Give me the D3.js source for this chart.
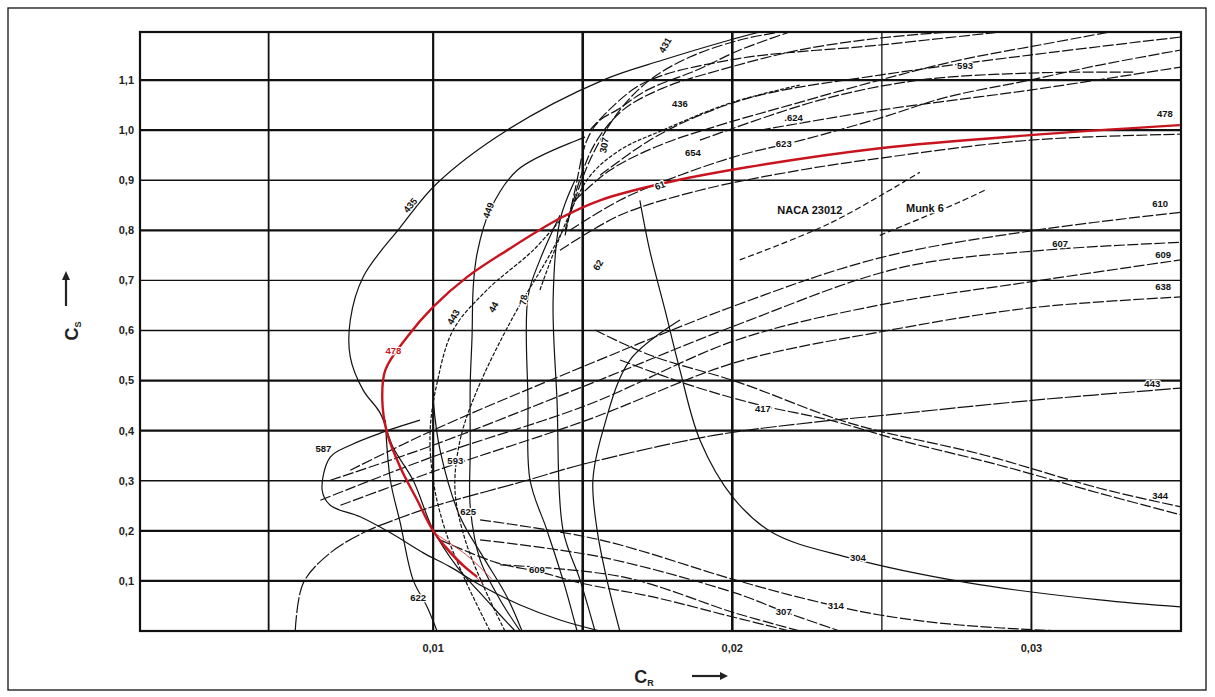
<!DOCTYPE html>
<html><head><meta charset="utf-8">
<script src="https://cdn.jsdelivr.net/npm/d3@7"></script>
<style>
html,body{margin:0;padding:0;background:#fff;}
svg{display:block;}
text{font-family:"Liberation Sans","DejaVu Sans",Arial,sans-serif;}
</style></head><body>
<svg id="chart" width="1215" height="697"></svg>
<script>
// ---- axis ticks ----
const csTicks = [0.1,0.2,0.3,0.4,0.5,0.6,0.7,0.8,0.9,1.0,1.1];
const csTickLabels = ["0,1","0,2","0,3","0,4","0,5","0,6","0,7","0,8","0,9","1,0","1,1"];
const crTicks = [0.01,0.02,0.03];
const crTickLabels = ["0,01","0,02","0,03"];
const crGrid = [0.0045,0.01,0.015,0.02,0.025,0.03];

// ---- polars (c_R, c_S) ----
const p478 = [[0.01147,0.108],[0.0108,0.142],[0.0100,0.200],[0.00947,0.261],[0.00890,0.327],[0.00846,0.395],[0.00830,0.461],[0.00840,0.521],[0.00913,0.587],[0.0100,0.647],[0.01114,0.707],[0.01247,0.760],[0.01424,0.824],[0.01558,0.860],[0.01769,0.894],[0.02049,0.926],[0.02494,0.964],[0.02995,0.990],[0.03496,1.010]];
const p478a = [[0.01003,0.196],[0.01090,0.140],[0.01167,0.094]];
const p478b = [[0.01003,0.196],[0.01115,0.150],[0.01195,0.104]];
const pOuter = [[0.02092,1.196],[0.01992,1.180],[0.01768,1.140],[0.01568,1.100],[0.01247,1.000],[0.01013,0.894],[0.00890,0.806],[0.00766,0.707],[0.00723,0.621],[0.00723,0.547],[0.00766,0.481],[0.00823,0.435],[0.00866,0.367],[0.00933,0.301],[0.0100,0.202],[0.01080,0.128],[0.01157,0.076],[0.01224,0.032],[0.01274,0.000]];
const pArc2 = [[0.01508,0.986],[0.01481,0.980],[0.01281,0.920],[0.01190,0.840],[0.01147,0.754],[0.01134,0.687],[0.01130,0.587],[0.01124,0.495],[0.01124,0.361],[0.01124,0.248],[0.01157,0.142],[0.01224,0.062],[0.01291,0.000]];
const pD = [[0.01424,0.820],[0.01334,0.760],[0.01180,0.681],[0.01067,0.601],[0.01013,0.495],[0.00990,0.401],[0.0100,0.301],[0.01040,0.202],[0.01107,0.102],[0.01190,0.000]];
const pE = [[0.01434,0.800],[0.01380,0.741],[0.01267,0.627],[0.01147,0.481],[0.01090,0.381],[0.01073,0.281],[0.01107,0.182],[0.01174,0.082],[0.01240,0.000]];
const pF = [[0.01424,0.830],[0.01357,0.741],[0.01317,0.667],[0.01317,0.461],[0.01324,0.301],[0.01380,0.202],[0.01434,0.102],[0.01481,0.000]];
const pG = [[0.01474,0.900],[0.01424,0.820],[0.01401,0.661],[0.01414,0.461],[0.01434,0.202],[0.01491,0.102],[0.01541,0.000]];
const p307 = [[0.01441,0.790],[0.01474,0.880],[0.01514,0.980],[0.01558,1.020],[0.01614,1.040],[0.01715,1.080],[0.01882,1.120],[0.02025,1.160],[0.02192,1.196]];
const p436 = [[0.01441,0.800],[0.01501,0.920],[0.01548,0.980],[0.01634,1.040],[0.01768,1.084],[0.01958,1.120],[0.02225,1.160],[0.02493,1.184],[0.02727,1.196]];
const pTop = [[0.01457,0.830],[0.01524,0.940],[0.01624,1.040],[0.01724,1.100],[0.01858,1.146],[0.02025,1.180],[0.02159,1.196]];
const p624 = [[0.01474,0.860],[0.01591,0.920],[0.01758,0.970],[0.01958,1.010],[0.02192,1.050],[0.02493,1.100],[0.02760,1.140],[0.03027,1.170],[0.03261,1.196]];
const p623 = [[0.01457,0.800],[0.01624,0.860],[0.01825,0.910],[0.02025,0.950],[0.02232,0.980],[0.02493,1.024],[0.02717,1.066],[0.02995,1.100],[0.03228,1.130],[0.03499,1.160]];
const p593 = [[0.01558,0.910],[0.01724,0.980],[0.01892,1.030],[0.02092,1.070],[0.02493,1.110],[0.02995,1.150],[0.03499,1.186]];
const pTop2 = [[0.01524,1.000],[0.01691,1.090],[0.01992,1.140],[0.02493,1.170],[0.02894,1.196]];
const pTop3 = [[0.01892,0.980],[0.02292,1.060],[0.02627,1.100],[0.02995,1.114],[0.03340,1.116]];
const pTop4 = [[0.02092,1.000],[0.02493,1.040],[0.02995,1.080],[0.03499,1.126]];
const pDot = [[0.01357,0.681],[0.01514,0.900],[0.01624,0.960],[0.01768,1.000],[0.01992,1.054],[0.02225,1.090]];
const pTwin = [[0.01424,0.760],[0.01624,0.830],[0.01892,0.880],[0.02225,0.920],[0.02493,0.944],[0.02995,0.980],[0.03499,0.992]];
const p610 = [[0.00723,0.321],[0.0100,0.401],[0.01514,0.531],[0.02015,0.651],[0.02493,0.745],[0.03011,0.800],[0.03499,0.836]];
const p607 = [[0.00656,0.301],[0.0100,0.371],[0.01514,0.491],[0.02015,0.611],[0.02560,0.725],[0.03035,0.760],[0.03499,0.776]];
const p609 = [[0.00623,0.261],[0.01013,0.351],[0.01514,0.451],[0.02015,0.581],[0.02493,0.651],[0.02995,0.697],[0.03499,0.741]];
const p638 = [[0.00690,0.251],[0.01013,0.321],[0.01514,0.421],[0.02015,0.537],[0.02493,0.597],[0.02995,0.645],[0.03499,0.667]];
const p443 = [[0.00539,0.000],[0.00566,0.096],[0.00656,0.156],[0.00766,0.196],[0.00890,0.226],[0.01013,0.251],[0.01291,0.297],[0.01514,0.335],[0.01942,0.391],[0.02276,0.417],[0.02510,0.431],[0.03011,0.461],[0.03499,0.485]];
const p344 = [[0.01541,0.601],[0.01724,0.551],[0.02019,0.497],[0.02393,0.415],[0.02844,0.351],[0.03228,0.285],[0.03499,0.248]];
const p417 = [[0.01625,0.541],[0.01858,0.491],[0.02092,0.451],[0.02326,0.421],[0.02560,0.381],[0.02894,0.331],[0.03228,0.275],[0.03499,0.232]];
const p304 = [[0.01691,0.860],[0.01724,0.760],[0.01775,0.641],[0.01825,0.521],[0.01892,0.381],[0.02002,0.267],[0.02135,0.196],[0.02379,0.148],[0.02790,0.096],[0.03228,0.062],[0.03499,0.048]];
const pArc3 = [[0.01825,0.621],[0.01658,0.541],[0.01568,0.401],[0.01534,0.301],[0.01548,0.202],[0.01581,0.102],[0.01624,0.000]];
const p587 = [[0.00956,0.421],[0.00823,0.395],[0.00723,0.371],[0.00656,0.347],[0.00629,0.281],[0.00656,0.251],[0.00756,0.228],[0.00857,0.196],[0.00967,0.156],[0.01057,0.128],[0.01157,0.092],[0.01291,0.052],[0.01424,0.022],[0.01558,0.000]];
const p593low = [[0.0100,0.461],[0.01023,0.361],[0.01090,0.228],[0.01167,0.148],[0.01247,0.068],[0.01297,0.000]];
const p622 = [[0.00840,0.421],[0.00857,0.301],[0.00890,0.216],[0.00933,0.102],[0.00980,0.048],[0.01013,0.000]];
const p609low = [[0.01023,0.182],[0.01214,0.136],[0.01357,0.118],[0.01491,0.096],[0.01735,0.068],[0.02002,0.028],[0.02192,0.000]];
const p314 = [[0.01157,0.222],[0.01558,0.182],[0.02009,0.102],[0.02259,0.062],[0.02493,0.032],[0.02760,0.012],[0.03094,0.000]];
const p307low = [[0.01157,0.182],[0.01558,0.148],[0.02009,0.076],[0.02176,0.038],[0.02359,0.000]];
const pLow3 = [[0.01224,0.132],[0.01634,0.108],[0.02009,0.036],[0.02226,0.000]];
const pNaca = [[0.02025,0.741],[0.02326,0.814],[0.02627,0.916]];
const pMunk = [[0.02493,0.790],[0.02750,0.854],[0.02844,0.880]];

// ---- curve labels: c_R, c_S, text ----
const labelPos = [
  [0.00867,0.561,"478"],[0.03446,1.034,"478"],[0.00923,0.850,"435"],[0.01184,0.840,"449"],
  [0.01571,0.970,"307"],[0.01825,1.054,"436"],[0.01775,1.170,"431"],[0.02205,1.026,".624"],
  [0.02172,0.974,"623"],[0.02778,1.130,"593"],[0.01868,0.956,"654"],[0.02259,0.840,"NACA 23012"],
  [0.02644,0.844,"Munk 6"],[0.03430,0.854,"610"],[0.03096,0.774,"607"],[0.03440,0.752,"609"],
  [0.03440,0.687,"638"],[0.03404,0.495,"443"],[0.02102,0.445,"417"],[0.03430,0.271,"344"],
  [0.02420,0.146,"304"],[0.02172,0.038,"307"],[0.02346,0.050,"314"],[0.01347,0.122,"609"],
  [0.00633,0.365,"587"],[0.01074,0.341,"593"],[0.01117,0.238,"625"],[0.00950,0.066,"622"],
  [0.01067,0.627,"443"],[0.01201,0.647,"44"],[0.01301,0.661,"78"],[0.01551,0.731,"62"],
  [0.01758,0.890,"61"]
];

const W = 1215, H = 697;
const svg = d3.select("#chart");
const x = d3.scaleLinear().domain([0.0002, 0.035]).range([140, 1181]);
const y = d3.scaleLinear().domain([0, 1.196]).range([631, 32]);

svg.append("rect").attr("x",0).attr("y",0).attr("width",W).attr("height",H).attr("fill","#fff");
svg.append("rect").attr("x",8).attr("y",8).attr("width",1198).attr("height",682)
  .attr("fill","none").attr("stroke","#111").attr("stroke-width",1.3);

svg.append("clipPath").attr("id","plot").append("rect")
  .attr("x",x.range()[0]).attr("y",y.range()[1])
  .attr("width",x.range()[1]-x.range()[0]).attr("height",y.range()[0]-y.range()[1]);

// grid
const heavyCs = new Set(["0.1","0.2","0.4","0.5","0.8","1","1.1"]);
const heavyCr = {"0.0045":1.8,"0.01":2.2,"0.015":2.6,"0.02":2.6,"0.025":1.3,"0.03":1.9};
const grid = svg.append("g");
grid.selectAll("line.h").data(csTicks).join("line").attr("class","h")
  .attr("x1",x.range()[0]).attr("x2",x.range()[1])
  .attr("y1",d=>y(d)).attr("y2",d=>y(d))
  .attr("stroke","#111").attr("stroke-width",d=>heavyCs.has(String(d))?2.1:1.3);
grid.selectAll("line.v").data(crGrid).join("line").attr("class","v")
  .attr("y1",y.range()[0]).attr("y2",y.range()[1])
  .attr("x1",d=>x(d)).attr("x2",d=>x(d))
  .attr("stroke","#111").attr("stroke-width",d=>heavyCr[String(d)]||1.5);

// curves
const line = d3.line().x(d=>x(d[0])).y(d=>y(d[1])).curve(d3.curveCatmullRom.alpha(0.5));
const solid = null, dash = "11,2.5", dot = "4,1.6", shortDash = "6,3";
const polars = [
  {pts:pOuter, dash:solid},{pts:pArc2, dash:solid},{pts:pD, dash:dot},{pts:pE, dash:dot},
  {pts:pF, dash:solid},{pts:pG, dash:solid},{pts:p307, dash:dash},{pts:p436, dash:dash},
  {pts:pTop, dash:dash},{pts:p624, dash:dash},{pts:p623, dash:dash},{pts:p593, dash:dash},
  {pts:pTop2, dash:dash},{pts:pTop3, dash:dash},{pts:pTop4, dash:dash},{pts:pDot, dash:dot},
  {pts:pTwin, dash:dash},{pts:p610, dash:dash},{pts:p607, dash:dash},{pts:p609, dash:dash},
  {pts:p638, dash:dash},{pts:p443, dash:"16,2"},{pts:p344, dash:dash},{pts:p417, dash:dash},
  {pts:p304, dash:solid},{pts:pArc3, dash:solid},{pts:p587, dash:solid},{pts:p593low, dash:solid},
  {pts:p622, dash:solid},{pts:p609low, dash:dash},{pts:p314, dash:dash},{pts:p307low, dash:dash},
  {pts:pLow3, dash:dash},{pts:pNaca, dash:shortDash},{pts:pMunk, dash:shortDash}
];
const curves = svg.append("g").attr("clip-path","url(#plot)");
curves.selectAll("path.polar").data(polars).join("path").attr("class","polar")
  .attr("d",d=>line(d.pts)).attr("fill","none").attr("stroke","#111")
  .attr("stroke-width",1.2).attr("stroke-dasharray",d=>d.dash);
curves.selectAll("path.tail").data([p478a,p478b]).join("path").attr("class","tail")
  .attr("d",line).attr("fill","none").attr("stroke","#d2373c").attr("stroke-width",0.9);
curves.append("path").attr("d",line(p478)).attr("fill","none")
  .attr("stroke","#c8141e").attr("stroke-width",2.4);

// frame
svg.append("rect").attr("x",x.range()[0]).attr("y",y.range()[1])
  .attr("width",x.range()[1]-x.range()[0]).attr("height",y.range()[0]-y.range()[1])
  .attr("fill","none").attr("stroke","#111").attr("stroke-width",2.2);

// curve labels
const rot = {2:-50,3:-70,4:-80,6:-60,28:-60,29:-60,30:-80,31:-60,32:-20};
svg.append("g").selectAll("text").data(labelPos).join("text")
  .attr("transform",(d,i)=>`translate(${x(d[0])},${y(d[1])}) rotate(${rot[i]||0})`)
  .attr("text-anchor","middle").attr("dominant-baseline","central")
  .attr("font-size",(d)=>d[2].length>4?11:9.5).attr("font-weight","bold")
  .attr("fill",(d,i)=>i===0?"#c8141e":"#111")
  .attr("stroke","#fff").attr("stroke-width",2.5).attr("paint-order","stroke")
  .text(d=>d[2]);

// y tick labels
svg.append("g").selectAll("text").data(csTicks).join("text")
  .attr("x",134).attr("y",d=>y(d)).attr("dy","0.35em").attr("text-anchor","end")
  .attr("font-size",11).attr("font-weight","bold").attr("fill","#222")
  .text((d,i)=>csTickLabels[i]);
// x tick labels
svg.append("g").selectAll("text").data(crTicks).join("text")
  .attr("x",d=>x(d)).attr("y",652).attr("text-anchor","middle")
  .attr("font-size",11).attr("font-weight","bold").attr("fill","#222")
  .text((d,i)=>crTickLabels[i]);

// axis titles
const xt = svg.append("text").attr("x",644).attr("y",683).attr("text-anchor","middle")
  .attr("font-weight","bold").attr("fill","#222");
xt.append("tspan").attr("font-size",18).text("C");
xt.append("tspan").attr("font-size",9).attr("dy",3).text("R");
svg.append("line").attr("x1",692).attr("x2",722).attr("y1",676).attr("y2",676)
  .attr("stroke","#222").attr("stroke-width",2.2);
svg.append("path").attr("d","M720,672 L728,676 L720,680 Z").attr("fill","#222");

const yt = svg.append("text").attr("transform","translate(78,331) rotate(-90)")
  .attr("text-anchor","middle").attr("font-weight","bold").attr("fill","#222");
yt.append("tspan").attr("font-size",18).text("C");
yt.append("tspan").attr("font-size",9).attr("dy",3).text("S");
svg.append("line").attr("x1",66).attr("x2",66).attr("y1",306).attr("y2",278)
  .attr("stroke","#222").attr("stroke-width",2.2);
svg.append("path").attr("d","M62,280 L66,271 L70,280 Z").attr("fill","#222");
</script>
</body></html>
